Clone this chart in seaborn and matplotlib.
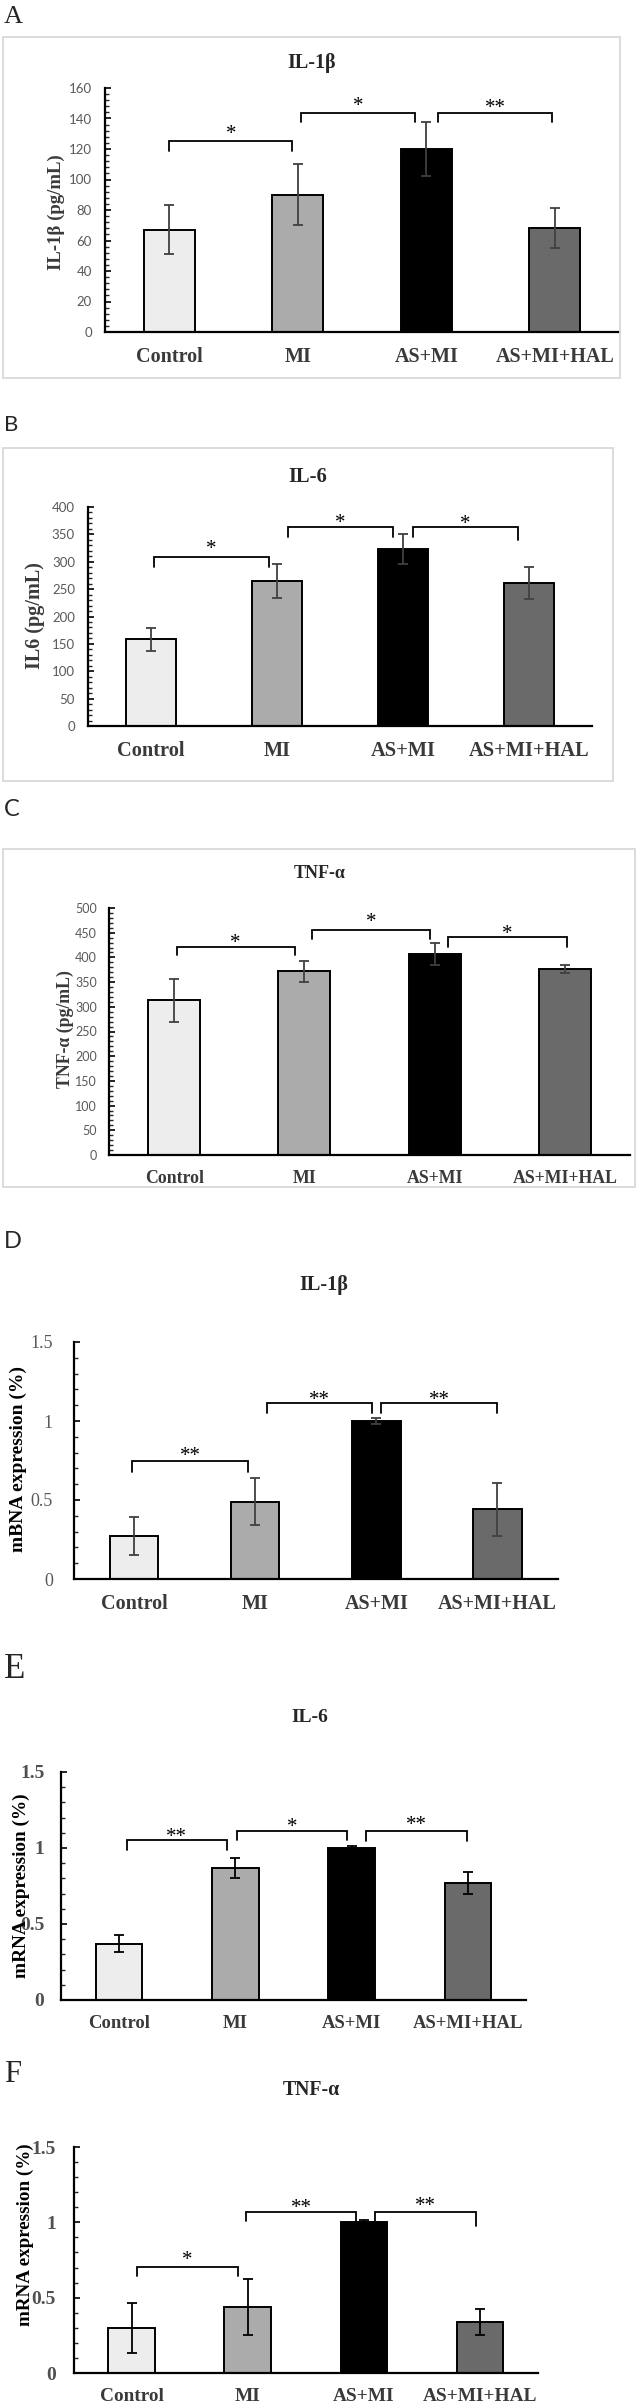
import numpy as np
import pandas as pd
import matplotlib
matplotlib.use("Agg")
import matplotlib.pyplot as plt
from matplotlib.patches import Rectangle
from matplotlib.ticker import MultipleLocator
import seaborn as sns

sns.set_style("white")
plt.rcParams['font.family'] = ['Liberation Serif', 'DejaVu Serif']

groups = ['Control', 'MI', 'AS+MI', 'AS+MI+HAL']
bar_colors = ['#ededed', '#ababab', '#000000', '#6a6a6a']

# ELISA (pg/mL)
il1b_elisa = [67, 90, 120, 68]
il1b_elisa_sd = [16, 20, 18, 13]
il6_elisa = [158, 265, 323, 261]
il6_elisa_sd = [21, 31, 27, 29]
tnf_elisa = [313, 372, 407, 377]
tnf_elisa_sd = [43, 21, 23, 8]

# mRNA expression
il1b_mrna = [0.27, 0.49, 1.0, 0.44]
il1b_mrna_sd = [0.12, 0.15, 0.02, 0.17]
il6_mrna = [0.37, 0.87, 1.0, 0.77]
il6_mrna_sd = [0.055, 0.065, 0.015, 0.075]
tnf_mrna = [0.30, 0.44, 1.0, 0.34]
tnf_mrna_sd = [0.165, 0.185, 0.015, 0.088]

# significance brackets: (x_start, x_end, top, drop_left, drop_right, label, star_y)
sig_A = [(0.0, 0.957, 125, 119, 119, '*', 132.7),
         (1.026, 1.915, 143.6, 137.5, 137.5, '*', 151),
         (2.092, 2.981, 143.6, 137.5, 137.5, '**', 150)]
sig_B = [(0.02, 0.933, 309, 291, 291, '*', 331),
         (1.085, 1.921, 363, 345, 345, '*', 380),
         (2.08, 2.912, 363, 345, 340, '*', 378)]
sig_C = [(0.019, 0.927, 422, 405, 405, '*', 439),
         (1.055, 1.964, 456, 438, 438, '*', 482),
         (2.105, 3.013, 441, 421, 421, '*', 457)]
sig_D = [(-0.013, 0.942, 0.749, 0.68, 0.68, '**', 0.806),
         (1.097, 1.968, 1.111, 1.052, 1.052, '**', 1.163),
         (2.042, 3.0, 1.111, 1.052, 1.052, '**', 1.163)]
sig_E = [(0.068, 0.927, 1.05, 0.987, 0.987, '**', 1.103),
         (1.015, 1.962, 1.112, 1.053, 1.053, '*', 1.17),
         (2.12, 2.993, 1.112, 1.048, 1.048, '**', 1.185)]
sig_F = [(0.044, 0.916, 0.703, 0.642, 0.642, '*', 0.779),
         (0.986, 1.935, 1.071, 1.007, 1.007, '**', 1.124),
         (2.093, 2.968, 1.071, 0.973, 0.973, '**', 1.139)]

W, H = 640, 2405
fig = plt.figure(figsize=(W / 100, H / 100), dpi=100)
fig.patch.set_facecolor('white')


def px_axes(l, r, t, b):
    return fig.add_axes([l / W, 1 - b / H, (r - l) / W, (b - t) / H])


def fig_text(x, y, s, **kw):
    fig.text(x / W, 1 - y / H, s, **kw)


def frame(l, r, t, b):
    fig.patches.append(Rectangle((l / W, 1 - b / H), (r - l) / W, (b - t) / H,
                                 transform=fig.transFigure, fill=False,
                                 edgecolor='#d9d9d9', lw=1.3))


def panel(rect, means, sds, sig, ymax, major, minor, tick_style, xlab_size,
          err_color, tick_pad):
    ax = px_axes(*rect)
    df = pd.DataFrame({'group': groups, 'value': means})
    sns.barplot(data=df, x='group', y='value', hue='group', order=groups,
                palette=dict(zip(groups, bar_colors)), width=0.4,
                edgecolor='black', linewidth=1.4, legend=False, ax=ax)
    ax.errorbar(np.arange(len(groups)), means, yerr=sds, fmt='none',
                ecolor=err_color, elinewidth=1.3, capsize=3.5, capthick=1.3)
    for x1, x2, top, d1, d2, lab, sy in sig:
        ax.plot([x1, x1, x2, x2], [d1, top, top, d2], color='black', lw=1.3,
                solid_joinstyle='miter', clip_on=False)
        ax.annotate(lab, ((x1 + x2) / 2, sy), xytext=(0, -7),
                    textcoords='offset points', ha='center', va='baseline',
                    fontsize=15, color='black', annotation_clip=False)
    ax.set_xlim(-0.5, 3.5)
    ax.set_ylim(0, ymax)
    ax.yaxis.set_major_locator(MultipleLocator(major))
    ax.yaxis.set_minor_locator(MultipleLocator(minor))
    ax.set_xlabel('')
    ax.set_ylabel('')
    for s in ['top', 'right']:
        ax.spines[s].set_visible(False)
    for s in ['left', 'bottom']:
        ax.spines[s].set_linewidth(1.6)
        ax.spines[s].set_color('black')
    ax.tick_params(axis='y', which='major', direction='in', length=4, width=1.2,
                   left=True, pad=tick_pad, colors='black')
    ax.tick_params(axis='y', which='minor', direction='in', length=3, width=1.0,
                   left=True)
    ax.tick_params(axis='x', length=0, pad=11)
    ax.yaxis.set_major_formatter(matplotlib.ticker.FuncFormatter(
        lambda v, p: '%g' % v))
    for t in ax.get_yticklabels():
        t.set_fontfamily(tick_style['family'])
        t.set_fontsize(tick_style['size'])
        t.set_fontweight(tick_style['weight'])
        t.set_color(tick_style['color'])
    for t in ax.get_xticklabels():
        t.set_fontweight('bold')
        t.set_fontsize(xlab_size)
        t.set_color('#3a3a3a')
    ax.set_facecolor('white')
    return ax


calibri = dict(family='Lato', size=9.5, weight='normal', color='#595959')

# ---- A ----
frame(3, 620, 37, 378)
fig_text(4, 17, 'A', fontsize=19, va='center', ha='left')
fig_text(312, 63, 'IL-1β', fontsize=14.5, fontweight='bold', ha='center', va='center')
panel((105, 619, 88, 332), il1b_elisa, il1b_elisa_sd, sig_A, 160, 20, 4,
      calibri, 14.5, '#404040', 9.4)
fig_text(56, 212, 'IL-1β (pg/mL)', fontsize=13.5, fontweight='bold', rotation=90,
         ha='center', va='center', color='#3a3a3a')

# ---- B ----
frame(3, 613, 448, 781)
fig_text(4, 425, 'B', fontsize=16, va='center', ha='left', family='Lato')
fig_text(308, 477, 'IL-6', fontsize=14.8, fontweight='bold', ha='center', va='center')
panel((88, 592, 507, 726), il6_elisa, il6_elisa_sd, sig_B, 400, 50, 10,
      calibri, 14.7, '#404040', 9.4)
fig_text(35, 616, 'IL6 (pg/mL)', fontsize=14.5, fontweight='bold', rotation=90,
         ha='center', va='center', color='#3a3a3a')

# ---- C ----
frame(3, 635, 849, 1187)
fig_text(4, 809, 'C', fontsize=17, va='center', ha='left', family='Lato')
fig_text(320, 873, 'TNF-α', fontsize=13, fontweight='bold', ha='center', va='center')
panel((109, 630, 908, 1155), tnf_elisa, tnf_elisa_sd, sig_C, 500, 50, 10,
      dict(calibri, size=9), 12.8, '#404040', 8.6)
fig_text(65, 1029, 'TNF-α (pg/mL)', fontsize=12.8, fontweight='bold', rotation=90,
         ha='center', va='center', color='#3a3a3a')

# ---- D ----
fig_text(4, 1242, 'D', fontsize=17, va='center', ha='left', family='Lato')
fig_text(324, 1285, 'IL-1β', fontsize=14.7, fontweight='bold', ha='center', va='center')
panel((73.5, 558, 1342, 1579), il1b_mrna, il1b_mrna_sd, sig_D, 1.5, 0.5, 0.1,
      dict(family='Liberation Serif', size=13, weight='normal', color='#595959'),
      14.5, '#404040', 14.8)
fig_text(18, 1459, 'mBNA expression (%)', fontsize=14, fontweight='bold',
         rotation=90, ha='center', va='center', color='black')

# ---- E ----
fig_text(4, 1670, 'E', fontsize=25, va='center', ha='left')
fig_text(310, 1717, 'IL-6', fontsize=14, fontweight='bold', ha='center', va='center')
panel((61, 526, 1772, 2000), il6_mrna, il6_mrna_sd, sig_E, 1.5, 0.5, 0.1,
      dict(family='Liberation Serif', size=14, weight='bold', color='#505050'),
      13.4, 'black', 12)
fig_text(21, 1886, 'mRNA expression (%)', fontsize=13.9, fontweight='bold',
         rotation=90, ha='center', va='center', color='black')

# ---- F ----
fig_text(4, 2075, 'F', fontsize=22, va='center', ha='left')
fig_text(311, 2090, 'TNF-α', fontsize=14.3, fontweight='bold', ha='center', va='center')
panel((73.5, 538, 2147, 2373), tnf_mrna, tnf_mrna_sd, sig_F, 1.5, 0.5, 0.1,
      dict(family='Liberation Serif', size=14, weight='bold', color='#505050'),
      13.9, 'black', 12.6)
fig_text(25, 2235, 'mRNA expression (%)', fontsize=13.7, fontweight='bold',
         rotation=90, ha='center', va='center', color='black')

fig.savefig('out.png', dpi=100, facecolor='white')
